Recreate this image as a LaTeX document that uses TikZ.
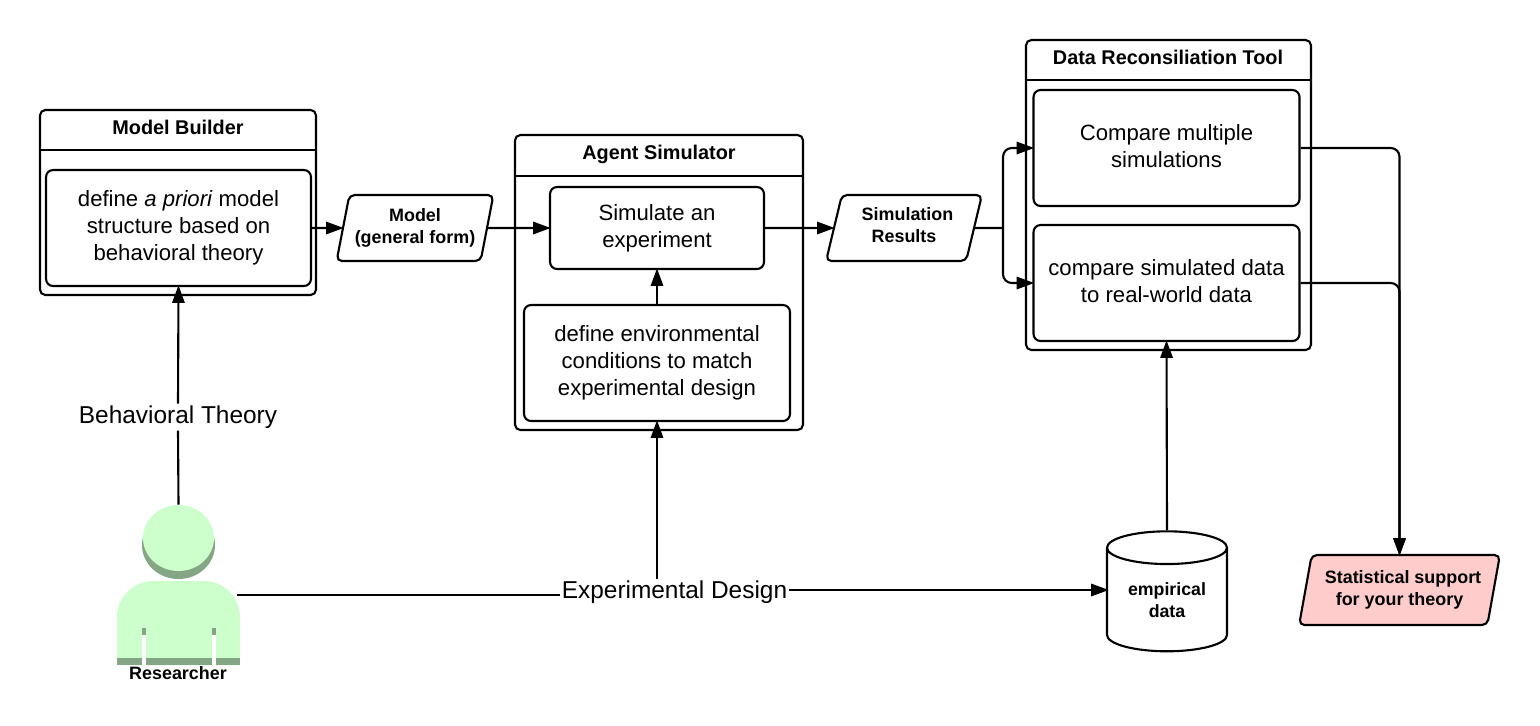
\documentclass[tikz,border=0pt]{standalone}
\usepackage{fontspec}
\setmainfont{Liberation Sans}
\usetikzlibrary{positioning, shapes.geometric, arrows.meta}
\definecolor{skin}{HTML}{CCFFCC}
\definecolor{skindark}{HTML}{85A685}
\definecolor{pinkbox}{HTML}{FFCCCC}
\newcommand{\lift}{\rule[-2.2pt]{0pt}{0pt}}
\tikzset{
    flow/.style={line width=1.2pt, shorten >=-1pt, -{Triangle[length=10pt,width=7pt]}},
    plain/.style={line width=1.2pt},
    outerbox/.style={draw, line width=1.2pt, rounded corners=3pt, inner sep=0pt},
    innerbox/.style={draw, line width=1.2pt, rounded corners=4pt, align=center, font=\fontsize{12.6}{15.3}\selectfont, inner sep=0pt},
    titlebox/.style={font=\fontsize{11.3}{13}\selectfont\bfseries, inner sep=0pt},
    para/.style={draw, line width=1.2pt, rounded corners=3pt, trapezium, trapezium stretches=true, trapezium left angle=73, trapezium right angle=107, align=center, font=\fontsize{10.2}{12.3}\selectfont\bfseries, inner sep=0pt},
    biglabel/.style={font=\fontsize{13.9}{16}\selectfont, inner sep=1pt},
}
\begin{document}
\begin{tikzpicture}[x=0.02cm, y=-0.02cm]
    \useasboundingbox (0,0) rectangle (1540,725);

    % Model Builder
    \node[outerbox, minimum width=5.52cm, minimum height=3.7cm] (builder) at (178,202.5) {};
    \node[titlebox] (buildertitle) at (178,127) {Model Builder};
    \draw[plain] (builder.west |- 0,150) -- (builder.east |- 0,150);
    \node[innerbox, minimum width=5.3cm, minimum height=2.32cm] (apriori) at (178.5,228) {define \emph{a priori} model\\structure based on\\behavioral theory};

    % Agent Simulator
    \node[outerbox, minimum width=5.76cm, minimum height=5.9cm] (agent) at (659,282.5) {};
    \node[titlebox] (agenttitle) at (659,154) {Agent Simulator};
    \draw[plain] (agent.west |- 0,176) -- (agent.east |- 0,176);
    \node[innerbox, minimum width=4.28cm, minimum height=1.64cm] (simulate) at (657,228) {Simulate an\\experiment};
    \node[innerbox, minimum width=5.32cm, minimum height=2.32cm] (environ) at (657,363) {define environmental\\conditions to match\\experimental design};

    % Data Reconsiliation Tool
    \node[outerbox, minimum width=5.7cm, minimum height=6.2cm] (tool) at (1168.5,195) {};
    \node[titlebox] (tooltitle) at (1168,57) {Data Reconsiliation Tool};
    \draw[plain] (tool.west |- 0,80) -- (tool.east |- 0,80);
    \node[innerbox, minimum width=5.32cm, minimum height=2.32cm] (multiple) at (1166.5,148) {Compare multiple\\simulations\lift};
    \node[innerbox, minimum width=5.32cm, minimum height=2.32cm] (realworld) at (1166.5,283) {compare simulated data\\to real-world data\lift};

    % parallelograms
    \node[para, minimum width=3.14cm, minimum height=1.32cm] (model) at (415,228) {Model\\(general form)\hspace{4pt}};
    \node[para, minimum width=3.14cm, minimum height=1.32cm] (results) at (904,228) {\hspace{4pt}Simulation\\Results\strut};
    \node[para, fill=pinkbox, minimum width=4.02cm, minimum height=1.4cm] (support) at (1399.5,590) {\hspace{4pt}Statistical support\\for your theory};

    % empirical data
    \node[draw, line width=1.2pt, cylinder, shape border rotate=90, aspect=0.42, minimum width=2.4cm, minimum height=2.4cm, align=center, inner sep=0pt, font=\fontsize{10.1}{12.3}\selectfont\bfseries] (empirical) at (1167,600) {empirical\\data};

    % Researcher
    \fill[skindark] (178.5,545) ellipse (36.5 and 34);
    \node[ellipse, fill=skin, minimum width=1.42cm, minimum height=1.32cm, inner sep=0pt] (head) at (178.5,538) {};
    \fill[skin] (117,665) [rounded corners=0.72cm] -- (117,581) -- (240,581) [sharp corners] -- (240,665) -- cycle;
    \fill[skindark] (117,658) rectangle (240,665);
    \foreach\P in{142,212}{
        \fill[skindark] (\P,628) rectangle (\P+4,635);
        \fill[white] (\P,635) rectangle (\P+4,665);
    }
    \coordinate (body) at (237,595);
    \node[font=\fontsize{10.2}{12}\selectfont\bfseries, inner sep=0pt] (researcher) at (178,673.5) {Researcher};

    % labels on the lines
    \node[biglabel] (theory) at (178,417) {Behavioral Theory};
    \node[biglabel] (design) at (674.5,592) {Experimental Design};

    % connectors
    \coordinate (dataport) at (1107,590);
    \draw[flow] (apriori.east) -- (model.west);
    \draw[flow] (model.east) -- (simulate.west);
    \draw[flow] (simulate.east) -- (results.west);
    \draw[flow] (environ.north) -- (simulate.south);
    \draw[plain] (head.north) -- (theory.south);
    \draw[flow] (theory.north) -- (apriori.south);
    \draw[plain] (body) -- (design.west |- body);
    \draw[flow] (design.east |- dataport) -- (dataport);
    \draw[flow] (design.north -| environ.south) -- (environ.south);
    \draw[flow] (empirical.north) -- (realworld.south);
    \coordinate (branch) at (1003,228);
    \draw[plain] (results.east) -- (branch);
    \draw[flow, rounded corners=5pt] (branch) -- (branch |- multiple.west) -- (multiple.west);
    \draw[flow, rounded corners=5pt] (branch) -- (branch |- realworld.west) -- (realworld.west);
    \draw[flow, rounded corners=5pt] (multiple.east) -- (support.north |- multiple.east) -- (support.north);
    \draw[flow, rounded corners=5pt] (realworld.east) -- (support.north |- realworld.east) -- (support.north);
\end{tikzpicture}
\end{document}
